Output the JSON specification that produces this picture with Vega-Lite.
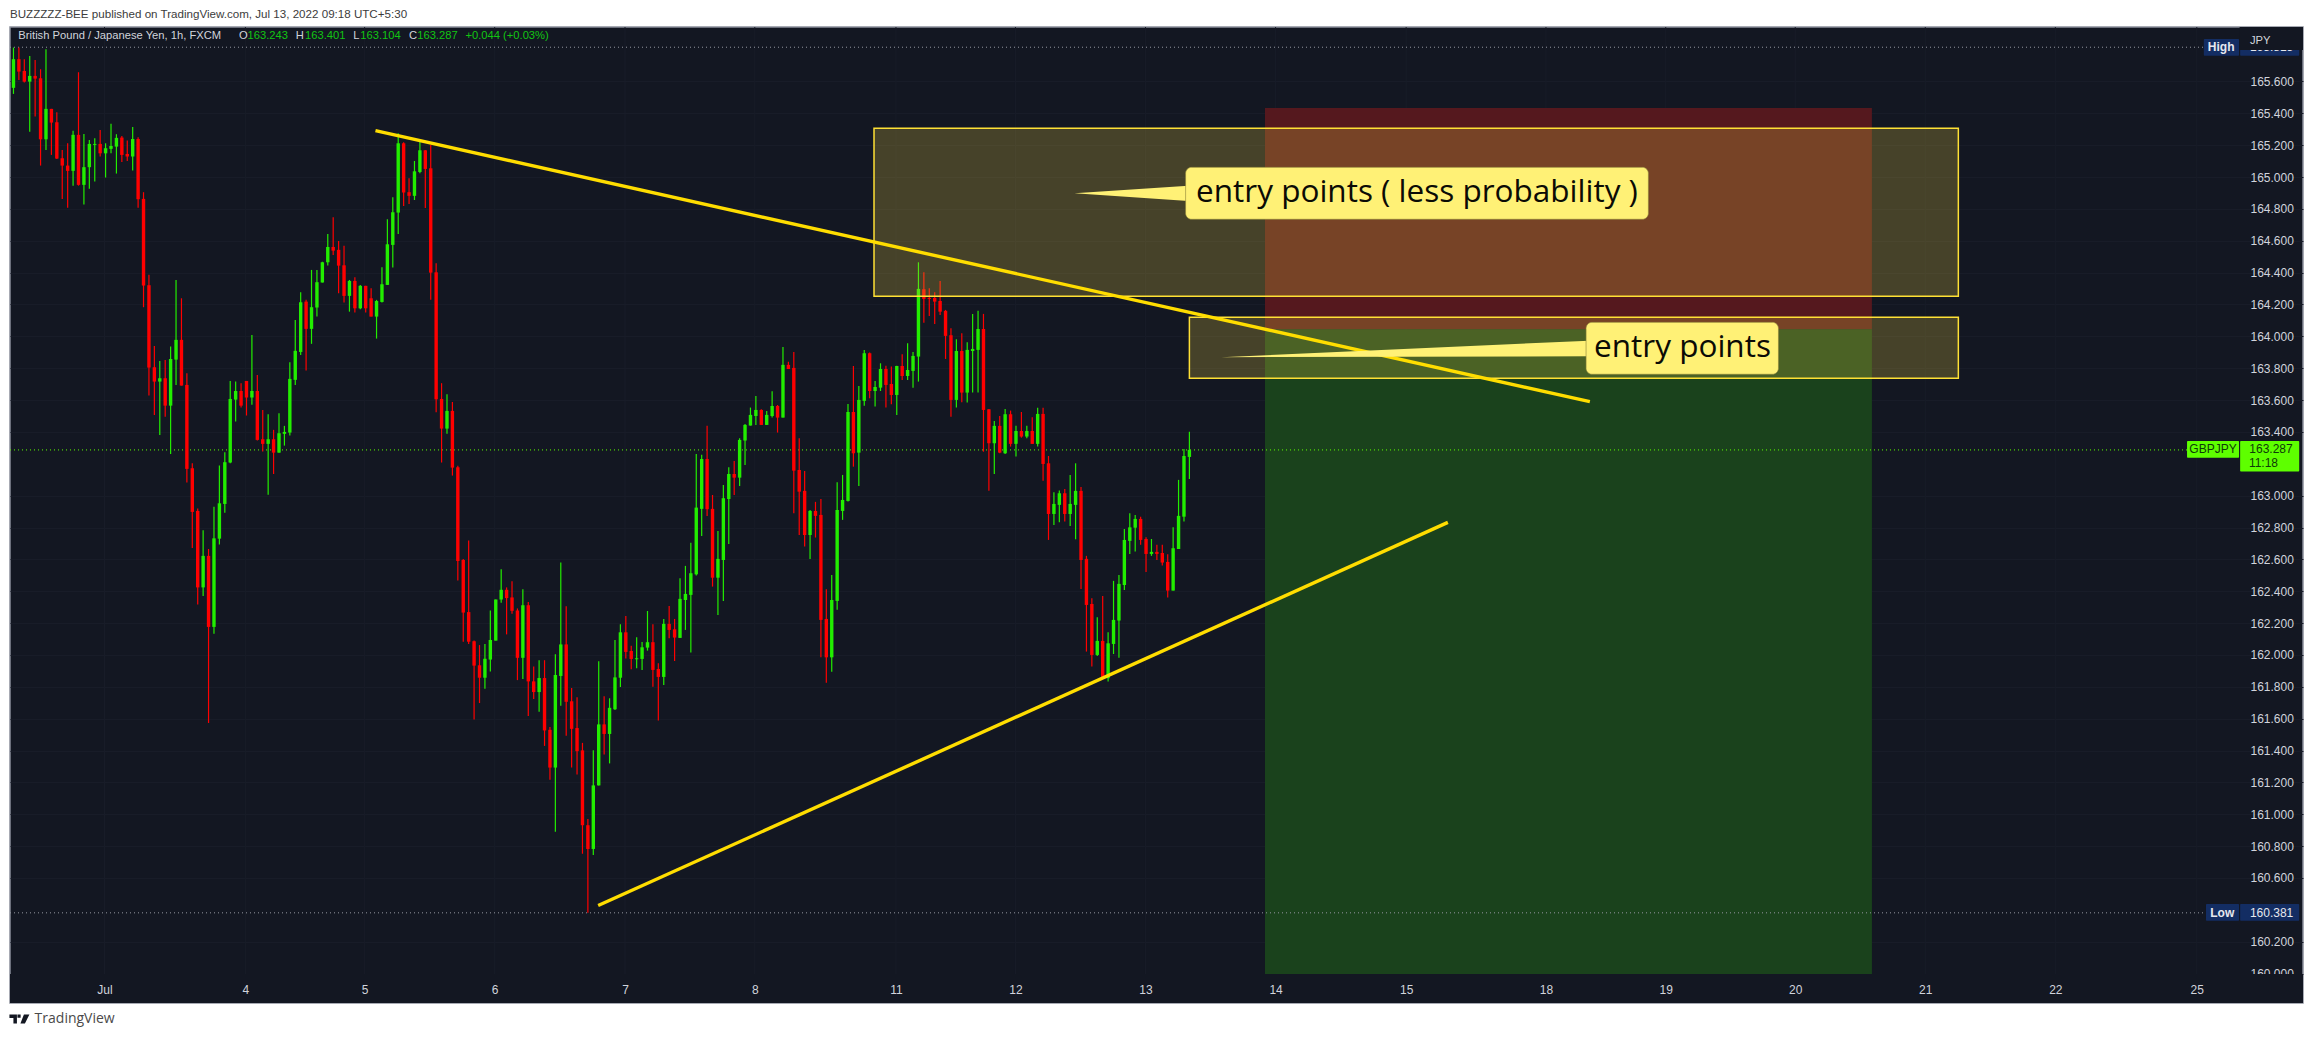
{"$schema":"https://vega.github.io/schema/vega-lite/v6.json","width":2293,"height":976,"autosize":{"type":"none"},"padding":{"left":10,"top":27,"right":11,"bottom":35},"background":"#ffffff","resolve":{"axis":{"x":"independent","y":"independent"}},"config":{"view":{"fill":"#131722","stroke":"#8b8f9b","strokeWidth":1.5},"text":{"font":"Liberation Sans"}},"datasets":{"candles":[
{"i":1,"o":165.56,"h":165.813,"l":165.522,"c":165.74},{"i":2,"o":165.74,"h":165.813,"l":165.61,"c":165.662},{"i":3,"o":165.666,"h":165.74,"l":165.593,"c":165.599},{"i":4,"o":165.599,"h":165.76,"l":165.285,"c":165.635},{"i":5,"o":165.635,"h":165.735,"l":165.38,"c":165.618},{"i":6,"o":165.62,"h":165.677,"l":165.072,"c":165.237},{"i":7,"o":165.237,"h":165.802,"l":165.17,"c":165.428},{"i":8,"o":165.428,"h":165.428,"l":165.139,"c":165.342},{"i":9,"o":165.344,"h":165.407,"l":165.114,"c":165.116},{"i":10,"o":165.118,"h":165.17,"l":164.863,"c":165.072},
{"i":11,"o":165.072,"h":165.212,"l":164.808,"c":165.039},{"i":12,"o":165.039,"h":165.29,"l":164.946,"c":165.265},{"i":13,"o":165.265,"h":165.658,"l":164.946,"c":164.951},{"i":14,"o":164.951,"h":165.271,"l":164.827,"c":165.062},{"i":15,"o":165.062,"h":165.233,"l":164.926,"c":165.208},{"i":16,"o":165.202,"h":165.244,"l":164.972,"c":165.208},{"i":17,"o":165.208,"h":165.296,"l":165.129,"c":165.149},{"i":18,"o":165.149,"h":165.212,"l":164.997,"c":165.181},{"i":19,"o":165.177,"h":165.334,"l":165.149,"c":165.195},{"i":20,"o":165.191,"h":165.269,"l":165.022,"c":165.246},
{"i":21,"o":165.248,"h":165.258,"l":165.095,"c":165.139},{"i":22,"o":165.145,"h":165.229,"l":165.101,"c":165.129},{"i":23,"o":165.129,"h":165.315,"l":165.041,"c":165.239},{"i":24,"o":165.239,"h":165.25,"l":164.808,"c":164.861},{"i":25,"o":164.863,"h":164.905,"l":164.183,"c":164.319},{"i":26,"o":164.321,"h":164.386,"l":163.628,"c":163.804},{"i":27,"o":163.806,"h":163.94,"l":163.507,"c":163.716},{"i":28,"o":163.716,"h":163.846,"l":163.381,"c":163.737},{"i":29,"o":163.737,"h":163.852,"l":163.496,"c":163.565},{"i":30,"o":163.565,"h":163.936,"l":163.262,"c":163.858},
{"i":31,"o":163.854,"h":164.354,"l":163.695,"c":163.978},{"i":32,"o":163.978,"h":164.239,"l":163.691,"c":163.691},{"i":33,"o":163.695,"h":163.768,"l":163.082,"c":163.168},{"i":34,"o":163.172,"h":163.203,"l":162.671,"c":162.898},{"i":35,"o":162.904,"h":162.919,"l":162.316,"c":162.424},{"i":36,"o":162.424,"h":162.783,"l":162.37,"c":162.622},{"i":37,"o":162.622,"h":162.665,"l":161.573,"c":162.176},{"i":38,"o":162.176,"h":162.93,"l":162.133,"c":162.732},{"i":39,"o":162.73,"h":163.189,"l":162.693,"c":162.952},{"i":40,"o":162.948,"h":163.272,"l":162.892,"c":163.21},
{"i":41,"o":163.208,"h":163.72,"l":163.203,"c":163.607},{"i":42,"o":163.603,"h":163.716,"l":163.465,"c":163.657},{"i":43,"o":163.657,"h":163.706,"l":163.553,"c":163.565},{"i":44,"o":163.72,"h":163.72,"l":163.503,"c":163.616},{"i":45,"o":163.616,"h":164.009,"l":163.57,"c":163.657},{"i":46,"o":163.657,"h":163.758,"l":163.346,"c":163.35},{"i":47,"o":163.354,"h":163.538,"l":163.277,"c":163.325},{"i":48,"o":163.325,"h":163.511,"l":163.005,"c":163.354},{"i":49,"o":163.354,"h":163.413,"l":163.136,"c":163.27},{"i":50,"o":163.27,"h":163.517,"l":163.27,"c":163.392},
{"i":51,"o":163.388,"h":163.438,"l":163.314,"c":163.4},{"i":52,"o":163.396,"h":163.837,"l":163.377,"c":163.733},{"i":53,"o":163.727,"h":164.103,"l":163.695,"c":163.909},{"i":54,"o":163.902,"h":164.277,"l":163.883,"c":164.214},{"i":55,"o":164.218,"h":164.229,"l":163.785,"c":164.047},{"i":56,"o":164.047,"h":164.417,"l":163.953,"c":164.183},{"i":57,"o":164.181,"h":164.417,"l":164.124,"c":164.34},{"i":58,"o":164.338,"h":164.469,"l":164.338,"c":164.465},{"i":59,"o":164.465,"h":164.643,"l":164.444,"c":164.561},{"i":60,"o":164.561,"h":164.748,"l":164.511,"c":164.538},
{"i":61,"o":164.543,"h":164.599,"l":164.271,"c":164.444},{"i":62,"o":164.446,"h":164.568,"l":164.212,"c":164.254},{"i":63,"o":164.254,"h":164.354,"l":164.155,"c":164.348},{"i":64,"o":164.348,"h":164.371,"l":164.149,"c":164.176},{"i":65,"o":164.176,"h":164.323,"l":164.17,"c":164.317},{"i":66,"o":164.317,"h":164.317,"l":164.149,"c":164.176},{"i":67,"o":164.239,"h":164.302,"l":164.124,"c":164.124},{"i":68,"o":164.124,"h":164.229,"l":163.986,"c":164.222},{"i":69,"o":164.216,"h":164.434,"l":164.212,"c":164.327},{"i":70,"o":164.323,"h":164.735,"l":164.323,"c":164.578},
{"i":71,"o":164.574,"h":164.873,"l":164.432,"c":164.779},{"i":72,"o":164.777,"h":165.275,"l":164.643,"c":165.212},{"i":73,"o":165.212,"h":165.218,"l":164.819,"c":164.903},{"i":74,"o":164.905,"h":164.993,"l":164.831,"c":164.882},{"i":75,"o":164.882,"h":165.101,"l":164.856,"c":165.036},{"i":76,"o":165.032,"h":165.223,"l":165.024,"c":165.168},{"i":77,"o":165.168,"h":165.17,"l":164.806,"c":165.051},{"i":78,"o":165.055,"h":165.202,"l":164.229,"c":164.4},{"i":79,"o":164.402,"h":164.459,"l":163.524,"c":163.605},{"i":80,"o":163.607,"h":163.706,"l":163.208,"c":163.421},
{"i":81,"o":163.421,"h":163.637,"l":163.388,"c":163.532},{"i":82,"o":163.532,"h":163.588,"l":163.126,"c":163.176},{"i":83,"o":163.178,"h":163.187,"l":162.467,"c":162.59},{"i":84,"o":162.596,"h":162.602,"l":162.083,"c":162.266},{"i":85,"o":162.269,"h":162.719,"l":162.068,"c":162.083},{"i":86,"o":162.086,"h":162.09,"l":161.594,"c":161.933},{"i":87,"o":161.935,"h":162.062,"l":161.698,"c":161.857},{"i":88,"o":161.857,"h":162.068,"l":161.788,"c":161.976},{"i":89,"o":161.971,"h":162.279,"l":161.896,"c":162.094},{"i":90,"o":162.09,"h":162.348,"l":162.09,"c":162.348},
{"i":91,"o":162.348,"h":162.538,"l":162.327,"c":162.409},{"i":92,"o":162.409,"h":162.424,"l":162.129,"c":162.357},{"i":93,"o":162.361,"h":162.463,"l":162.258,"c":162.277},{"i":94,"o":162.279,"h":162.292,"l":161.842,"c":161.982},{"i":95,"o":161.982,"h":162.413,"l":161.849,"c":162.312},{"i":96,"o":162.312,"h":162.333,"l":161.616,"c":161.834},{"i":97,"o":161.834,"h":161.928,"l":161.724,"c":161.767},{"i":98,"o":161.767,"h":161.967,"l":161.644,"c":161.855},{"i":99,"o":161.855,"h":161.967,"l":161.429,"c":161.526},{"i":100,"o":161.53,"h":161.547,"l":161.217,"c":161.293},
{"i":101,"o":161.293,"h":162.004,"l":160.89,"c":161.874},{"i":102,"o":161.868,"h":162.581,"l":161.681,"c":162.066},{"i":103,"o":162.066,"h":162.305,"l":161.493,"c":161.706},{"i":104,"o":161.709,"h":161.793,"l":161.293,"c":161.536},{"i":105,"o":161.541,"h":161.734,"l":161.25,"c":161.396},{"i":106,"o":161.401,"h":161.448,"l":160.752,"c":160.931},{"i":107,"o":160.931,"h":160.97,"l":160.381,"c":160.782},{"i":108,"o":160.782,"h":161.401,"l":160.744,"c":161.181},{"i":109,"o":161.181,"h":161.961,"l":161.181,"c":161.564},{"i":110,"o":161.564,"h":161.741,"l":161.375,"c":161.504},
{"i":111,"o":161.504,"h":161.728,"l":161.319,"c":161.668},{"i":112,"o":161.659,"h":162.094,"l":161.655,"c":161.859},{"i":113,"o":161.857,"h":162.193,"l":161.799,"c":162.142},{"i":114,"o":162.142,"h":162.245,"l":161.978,"c":162.019},{"i":115,"o":162.025,"h":162.057,"l":161.91,"c":161.975},{"i":116,"o":161.973,"h":162.111,"l":161.916,"c":161.979},{"i":117,"o":161.975,"h":162.082,"l":161.906,"c":162.048},{"i":118,"o":162.046,"h":162.276,"l":162.027,"c":162.08},{"i":119,"o":162.08,"h":162.193,"l":161.801,"c":161.906},{"i":120,"o":161.912,"h":161.948,"l":161.588,"c":161.862},
{"i":121,"o":161.862,"h":162.226,"l":161.812,"c":162.195},{"i":122,"o":162.195,"h":162.308,"l":162.105,"c":162.157},{"i":123,"o":162.161,"h":162.226,"l":161.962,"c":162.109},{"i":124,"o":162.107,"h":162.481,"l":162.107,"c":162.352},{"i":125,"o":162.345,"h":162.559,"l":162.157,"c":162.383},{"i":126,"o":162.377,"h":162.705,"l":162.015,"c":162.513},{"i":127,"o":162.506,"h":163.262,"l":162.498,"c":162.925},{"i":128,"o":162.917,"h":163.256,"l":162.747,"c":163.23},{"i":129,"o":163.23,"h":163.438,"l":162.873,"c":162.915},{"i":130,"o":162.917,"h":163.004,"l":162.429,"c":162.485},
{"i":131,"o":162.485,"h":162.778,"l":162.251,"c":162.603},{"i":132,"o":162.596,"h":163.067,"l":162.339,"c":162.984},{"i":133,"o":162.979,"h":163.178,"l":162.697,"c":163.136},{"i":134,"o":163.136,"h":163.218,"l":163.004,"c":163.113},{"i":135,"o":163.113,"h":163.36,"l":163.061,"c":163.35},{"i":136,"o":163.346,"h":163.45,"l":163.193,"c":163.444},{"i":137,"o":163.44,"h":163.553,"l":163.44,"c":163.507},{"i":138,"o":163.5,"h":163.626,"l":163.444,"c":163.538},{"i":139,"o":163.538,"h":163.542,"l":163.444,"c":163.444},{"i":140,"o":163.444,"h":163.532,"l":163.444,"c":163.507},
{"i":141,"o":163.5,"h":163.655,"l":163.49,"c":163.563},{"i":142,"o":163.563,"h":163.569,"l":163.396,"c":163.49},{"i":143,"o":163.49,"h":163.933,"l":163.49,"c":163.821},{"i":144,"o":163.821,"h":163.841,"l":163.795,"c":163.795},{"i":145,"o":163.802,"h":163.902,"l":162.889,"c":163.157},{"i":146,"o":163.161,"h":163.36,"l":162.753,"c":163.025},{"i":147,"o":163.03,"h":163.155,"l":162.68,"c":162.753},{"i":148,"o":162.753,"h":162.91,"l":162.603,"c":162.904},{"i":149,"o":162.904,"h":162.961,"l":162.737,"c":162.873},{"i":150,"o":162.879,"h":162.979,"l":161.985,"c":162.22},
{"i":151,"o":162.226,"h":162.412,"l":161.826,"c":161.985},{"i":152,"o":161.985,"h":162.502,"l":161.895,"c":162.345},{"i":153,"o":162.339,"h":163.084,"l":162.283,"c":162.91},{"i":154,"o":162.904,"h":163.13,"l":162.848,"c":162.973},{"i":155,"o":162.967,"h":163.576,"l":162.963,"c":163.525},{"i":156,"o":163.525,"h":163.814,"l":163.182,"c":163.266},{"i":157,"o":163.27,"h":163.689,"l":163.061,"c":163.601},{"i":158,"o":163.595,"h":163.915,"l":163.565,"c":163.894},{"i":159,"o":163.894,"h":163.898,"l":163.611,"c":163.657},{"i":160,"o":163.657,"h":163.72,"l":163.559,"c":163.682},
{"i":161,"o":163.678,"h":163.831,"l":163.657,"c":163.795},{"i":162,"o":163.795,"h":163.816,"l":163.553,"c":163.695},{"i":163,"o":163.701,"h":163.81,"l":163.574,"c":163.632},{"i":164,"o":163.632,"h":163.816,"l":163.507,"c":163.814},{"i":165,"o":163.814,"h":163.887,"l":163.726,"c":163.751},{"i":166,"o":163.751,"h":163.957,"l":163.726,"c":163.789},{"i":167,"o":163.783,"h":163.902,"l":163.678,"c":163.877},{"i":168,"o":163.873,"h":164.465,"l":163.716,"c":164.298},{"i":169,"o":164.296,"h":164.402,"l":164.086,"c":164.235},{"i":170,"o":164.241,"h":164.302,"l":164.128,"c":164.235},
{"i":171,"o":164.241,"h":164.277,"l":164.078,"c":164.218},{"i":172,"o":164.222,"h":164.348,"l":164.134,"c":164.155},{"i":173,"o":164.16,"h":164.166,"l":163.858,"c":164.003},{"i":174,"o":164.007,"h":164.051,"l":163.496,"c":163.601},{"i":175,"o":163.601,"h":163.982,"l":163.553,"c":163.908},{"i":176,"o":163.908,"h":164.019,"l":163.586,"c":163.647},{"i":177,"o":163.647,"h":163.963,"l":163.584,"c":163.915},{"i":178,"o":163.908,"h":164.141,"l":163.647,"c":163.921},{"i":179,"o":163.915,"h":164.16,"l":163.647,"c":164.046},{"i":180,"o":164.046,"h":164.141,"l":163.276,"c":163.538},
{"i":181,"o":163.542,"h":163.544,"l":163.03,"c":163.329},{"i":182,"o":163.329,"h":163.469,"l":163.136,"c":163.438},{"i":183,"o":163.438,"h":163.5,"l":163.266,"c":163.27},{"i":184,"o":163.266,"h":163.544,"l":163.262,"c":163.511},{"i":185,"o":163.511,"h":163.534,"l":163.308,"c":163.325},{"i":186,"o":163.325,"h":163.438,"l":163.245,"c":163.406},{"i":187,"o":163.406,"h":163.525,"l":163.364,"c":163.371},{"i":188,"o":163.371,"h":163.438,"l":163.36,"c":163.406},{"i":189,"o":163.406,"h":163.492,"l":163.325,"c":163.325},{"i":190,"o":163.325,"h":163.551,"l":163.308,"c":163.513},
{"i":191,"o":163.513,"h":163.551,"l":163.094,"c":163.199},{"i":192,"o":163.203,"h":163.249,"l":162.722,"c":162.885},{"i":193,"o":162.885,"h":163.021,"l":162.816,"c":162.948},{"i":194,"o":162.942,"h":163.032,"l":162.833,"c":163.015},{"i":195,"o":163.015,"h":163.042,"l":162.837,"c":162.885},{"i":196,"o":162.885,"h":163.13,"l":162.81,"c":162.948},{"i":197,"o":162.942,"h":163.203,"l":162.726,"c":163.03},{"i":198,"o":163.03,"h":163.055,"l":162.414,"c":162.596},{"i":199,"o":162.603,"h":162.622,"l":162.021,"c":162.314},{"i":200,"o":162.32,"h":162.356,"l":161.927,"c":162.0},
{"i":201,"o":162.0,"h":162.236,"l":161.994,"c":162.088},{"i":202,"o":162.088,"h":162.37,"l":161.854,"c":161.854},{"i":203,"o":161.854,"h":162.142,"l":161.833,"c":162.073},{"i":204,"o":162.069,"h":162.465,"l":162.006,"c":162.22},{"i":205,"o":162.216,"h":162.502,"l":161.983,"c":162.446},{"i":206,"o":162.439,"h":162.791,"l":162.408,"c":162.722},{"i":207,"o":162.716,"h":162.889,"l":162.634,"c":162.801},{"i":208,"o":162.799,"h":162.879,"l":162.649,"c":162.854},{"i":209,"o":162.854,"h":162.868,"l":162.691,"c":162.722},{"i":210,"o":162.728,"h":162.739,"l":162.521,"c":162.634},
{"i":211,"o":162.634,"h":162.728,"l":162.622,"c":162.647},{"i":212,"o":162.647,"h":162.691,"l":162.596,"c":162.634},{"i":213,"o":162.64,"h":162.691,"l":162.561,"c":162.58},{"i":214,"o":162.584,"h":162.632,"l":162.36,"c":162.404},{"i":215,"o":162.404,"h":162.801,"l":162.404,"c":162.67},{"i":216,"o":162.665,"h":163.099,"l":162.665,"c":162.873},{"i":217,"o":162.868,"h":163.293,"l":162.837,"c":163.249},{"i":218,"o":163.243,"h":163.401,"l":163.104,"c":163.287}
]},"layer":[
{"data":{"values":[{"x":17.8},{"x":43.8},{"x":65.8},{"x":89.8},{"x":113.85},{"x":137.8},{"x":163.85},{"x":185.9},{"x":209.9},{"x":233.9},{"x":258},{"x":283.8},{"x":305.9},{"x":329.8},{"x":353.8},{"x":377.8},{"x":403.9}]},"mark":{"type":"rule","color":"#181c28","strokeWidth":1},"encoding":{"x":{"field":"x","type":"quantitative","axis":null,"scale":{"domain":[0.36,423.5],"nice":false,"zero":false}}}},
{"data":{"values":[{"zone":"stop","x":231.95,"x2":343.95,"y":165.434,"y2":164.044},{"zone":"target","x":231.95,"x2":343.95,"y":164.044,"y2":159.997}]},"mark":{"type":"rect"},"encoding":{"x":{"field":"x","type":"quantitative","title":null,"scale":{"domain":[0.36,423.5],"nice":false,"zero":false},"axis":{"title":null,"values":[17.8,43.8,65.8,89.8,113.85,137.8,163.85,185.9,209.9,233.9,258,283.8,305.9,329.8,353.8,377.8,403.9],"labelExpr":"datum.value==17.8?'Jul':datum.value==43.8?'4':datum.value==65.8?'5':datum.value==89.8?'6':datum.value==113.85?'7':datum.value==137.8?'8':datum.value==163.85?'11':datum.value==185.9?'12':datum.value==209.9?'13':datum.value==233.9?'14':datum.value==258?'15':datum.value==283.8?'18':datum.value==305.9?'19':datum.value==329.8?'20':datum.value==353.8?'21':datum.value==377.8?'22':'25'","orient":"bottom","offset":-14,"domain":false,"ticks":false,"labelPadding":0,"labelBaseline":"middle","labelColor":"#d1d4dc","labelFont":"Liberation Sans","labelFontSize":12,"labelOverlap":false,"labelBound":false,"labelFlush":false,"grid":false,"zindex":1}},"x2":{"field":"x2"},"y":{"field":"y","type":"quantitative","title":null,"scale":{"domain":[159.815,165.942],"nice":false,"zero":false},"axis":{"title":null,"values":[160,160.2,160.6,160.8,161,161.2,161.4,161.6,161.8,162,162.2,162.4,162.6,162.8,163,163.4,163.6,163.8,164,164.2,164.4,164.6,164.8,165,165.2,165.4,165.6],"format":".3f","orient":"right","offset":-53,"domain":false,"ticks":false,"labelPadding":0,"labelAlign":"left","labelColor":"#d1d4dc","labelFont":"Liberation Sans","labelFontSize":12,"labelOverlap":false,"labelBound":false,"grid":true,"gridColor":"#181c28"}},"y2":{"field":"y2"},"color":{"field":"zone","type":"nominal","legend":null,"scale":{"domain":["stop","target"],"range":["#55181e","#1a421c"]}}}},
{"data":{"values":[{"level":"High","y":165.815,"x":0.36,"x2":405.2},{"level":"Low","y":160.381,"x":0.36,"x2":405.6}]},"mark":{"type":"rule","strokeDash":[1,3],"strokeWidth":1,"color":"#9598a1"},"encoding":{"x":{"field":"x","type":"quantitative","axis":null,"scale":{"domain":[0.36,423.5],"nice":false,"zero":false}},"x2":{"field":"x2"},"y":{"field":"y","type":"quantitative","axis":null,"scale":{"domain":[159.815,165.942],"nice":false,"zero":false}}}},
{"data":{"values":[{"level":"Last","y":163.287,"x":0.36,"x2":402.1}]},"mark":{"type":"rule","strokeDash":[1,3],"strokeWidth":1,"color":"#5eff00"},"encoding":{"x":{"field":"x","type":"quantitative","axis":null,"scale":{"domain":[0.36,423.5],"nice":false,"zero":false}},"x2":{"field":"x2"},"y":{"field":"y","type":"quantitative","axis":null,"scale":{"domain":[159.815,165.942],"nice":false,"zero":false}}}},
{"data":{"name":"candles"},"mark":{"type":"rule","strokeWidth":1.2},"encoding":{"x":{"field":"i","type":"quantitative","axis":null,"scale":{"domain":[0.36,423.5],"nice":false,"zero":false}},"y":{"field":"h","type":"quantitative","axis":null,"scale":{"domain":[159.815,165.942],"nice":false,"zero":false}},"y2":{"field":"l"},"color":{"condition":{"test":"datum.c>=datum.o","value":"#22ee00"},"value":"#ff0000"}}},
{"data":{"name":"candles"},"mark":{"type":"rule","strokeWidth":3.4},"encoding":{"x":{"field":"i","type":"quantitative","axis":null,"scale":{"domain":[0.36,423.5],"nice":false,"zero":false}},"y":{"field":"o","type":"quantitative","axis":null,"scale":{"domain":[159.815,165.942],"nice":false,"zero":false}},"y2":{"field":"c"},"color":{"condition":{"test":"datum.c>=datum.o","value":"#22ee00"},"value":"#ff0000"}}},
{"data":{"values":[{"x":159.8,"x2":359.9,"y":165.306,"y2":164.252},{"x":218,"x2":359.9,"y":164.12,"y2":163.737}]},"mark":{"type":"rect","fill":"#dec23f","fillOpacity":0.25,"stroke":"#ffe135","strokeWidth":1.5},"encoding":{"x":{"field":"x","type":"quantitative","axis":null,"scale":{"domain":[0.36,423.5],"nice":false,"zero":false}},"x2":{"field":"x2"},"y":{"field":"y","type":"quantitative","axis":null,"scale":{"domain":[159.815,165.942],"nice":false,"zero":false}},"y2":{"field":"y2"}}},
{"data":{"values":[{"line":"upper","x":67.8,"y":165.291},{"line":"upper","x":291.9,"y":163.59},{"line":"lower","x":108.9,"y":160.427},{"line":"lower","x":265.7,"y":162.832}]},"mark":{"type":"line","color":"#ffdd00","strokeWidth":3.4},"encoding":{"detail":{"field":"line"},"x":{"field":"x","type":"quantitative","axis":null,"scale":{"domain":[0.36,423.5],"nice":false,"zero":false}},"y":{"field":"y","type":"quantitative","axis":null,"scale":{"domain":[159.815,165.942],"nice":false,"zero":false}}}},
{"data":{"values":[{"c":"a","x":196.8,"y":164.898,"y2":164.898},{"c":"a","x":217.8,"y":164.946,"y2":164.85},{"c":"b","x":223.9,"y":163.869,"y2":163.869},{"c":"b","x":291.7,"y":163.973,"y2":163.875}]},"mark":{"type":"area","color":"#fff176","orient":"vertical"},"encoding":{"detail":{"field":"c"},"x":{"field":"x","type":"quantitative","axis":null,"scale":{"domain":[0.36,423.5],"nice":false,"zero":false}},"y":{"field":"y","type":"quantitative","axis":null,"scale":{"domain":[159.815,165.942],"nice":false,"zero":false}},"y2":{"field":"y2"}}},
{"data":{"values":[{"x":217.3,"x2":302.7,"y":165.061,"y2":164.735},{"x":291.2,"x2":326.7,"y":164.088,"y2":163.762}]},"mark":{"type":"rect","fill":"#fff176","cornerRadius":6,"stroke":"#8a8038","strokeWidth":0.6},"encoding":{"x":{"field":"x","type":"quantitative","axis":null,"scale":{"domain":[0.36,423.5],"nice":false,"zero":false}},"x2":{"field":"x2"},"y":{"field":"y","type":"quantitative","axis":null,"scale":{"domain":[159.815,165.942],"nice":false,"zero":false}},"y2":{"field":"y2"}}},
{"data":{"values":[{"t":"entry points ( less probability )","x":260,"y":164.9},{"t":"entry points","x":309,"y":163.927}]},"mark":{"type":"text","font":"Open Sans","fontSize":31.5,"color":"#0b0b05","align":"center","baseline":"middle"},"encoding":{"x":{"field":"x","type":"quantitative","axis":null,"scale":{"domain":[0.36,423.5],"nice":false,"zero":false}},"y":{"field":"y","type":"quantitative","axis":null,"scale":{"domain":[159.815,165.942],"nice":false,"zero":false}},"text":{"field":"t"}}},
{"data":{"values":[{"tag":"GBPJPY","x":402.1,"x2":411.7,"y":163.343,"y2":163.238},{"tag":"price","x":411.9,"x2":422.8,"y":163.343,"y2":163.151}]},"mark":{"type":"rect","fill":"#5eff00","cornerRadius":1},"encoding":{"x":{"field":"x","type":"quantitative","axis":null,"scale":{"domain":[0.36,423.5],"nice":false,"zero":false}},"x2":{"field":"x2"},"y":{"field":"y","type":"quantitative","axis":null,"scale":{"domain":[159.815,165.942],"nice":false,"zero":false}},"y2":{"field":"y2"}}},
{"data":{"values":[{"tag":"High","x":405.2,"x2":411.7,"y":165.867,"y2":165.762},{"tag":"HighValue","x":411.9,"x2":422.8,"y":165.867,"y2":165.762},{"tag":"Low","x":405.6,"x2":411.7,"y":160.437,"y2":160.332},{"tag":"LowValue","x":411.9,"x2":422.8,"y":160.437,"y2":160.332}]},"mark":{"type":"rect","fill":"#132d63","cornerRadius":1},"encoding":{"x":{"field":"x","type":"quantitative","axis":null,"scale":{"domain":[0.36,423.5],"nice":false,"zero":false}},"x2":{"field":"x2"},"y":{"field":"y","type":"quantitative","axis":null,"scale":{"domain":[159.815,165.942],"nice":false,"zero":false}},"y2":{"field":"y2"}}},
{"data":{"values":[{"t":"165.815","x":413.7,"y":165.817},{"t":"160.381","x":413.7,"y":160.381}]},"mark":{"type":"text","fontSize":12,"color":"#e6e8ee","align":"left","baseline":"middle"},"encoding":{"x":{"field":"x","type":"quantitative","axis":null,"scale":{"domain":[0.36,423.5],"nice":false,"zero":false}},"y":{"field":"y","type":"quantitative","axis":null,"scale":{"domain":[159.815,165.942],"nice":false,"zero":false}},"text":{"field":"t"}}},
{"data":{"values":[{"cover":"priceHeader","x":411.8,"x2":423.5,"y":165.942,"y2":165.798},{"cover":"timeAxis","x":0.36,"x2":423.5,"y":159.997,"y2":159.815}]},"mark":{"type":"rect","fill":"#131722"},"encoding":{"x":{"field":"x","type":"quantitative","axis":null,"scale":{"domain":[0.36,423.5],"nice":false,"zero":false}},"x2":{"field":"x2"},"y":{"field":"y","type":"quantitative","axis":null,"scale":{"domain":[159.815,165.942],"nice":false,"zero":false}},"y2":{"field":"y2"}}},
{"data":{"values":[{"t":"High","x":408.4,"y":165.817},{"t":"Low","x":408.6,"y":160.381}]},"mark":{"type":"text","fontSize":12,"fontWeight":"bold","color":"#e6e8ee","align":"center","baseline":"middle"},"encoding":{"x":{"field":"x","type":"quantitative","axis":null,"scale":{"domain":[0.36,423.5],"nice":false,"zero":false}},"y":{"field":"y","type":"quantitative","axis":null,"scale":{"domain":[159.815,165.942],"nice":false,"zero":false}},"text":{"field":"t"}}},
{"data":{"values":[{"t":"GBPJPY","x":406.9,"y":163.29},{"t":"163.287","x":417.6,"y":163.29},{"t":"11:18","x":416.2,"y":163.205}]},"mark":{"type":"text","fontSize":12,"color":"#0e3b08","align":"center","baseline":"middle"},"encoding":{"x":{"field":"x","type":"quantitative","axis":null,"scale":{"domain":[0.36,423.5],"nice":false,"zero":false}},"y":{"field":"y","type":"quantitative","axis":null,"scale":{"domain":[159.815,165.942],"nice":false,"zero":false}},"text":{"field":"t"}}},
{"data":{"values":[{"t":"British Pound / Japanese Yen, 1h, FXCM","x":1.9,"y":165.888},{"t":"O","x":42.6,"y":165.888},{"t":"H","x":53.1,"y":165.888},{"t":"L","x":63.7,"y":165.888},{"t":"C","x":74,"y":165.888},{"t":"JPY","x":413.7,"y":165.854}]},"mark":{"type":"text","fontSize":11.2,"color":"#d1d4dc","align":"left","baseline":"middle"},"encoding":{"x":{"field":"x","type":"quantitative","axis":null,"scale":{"domain":[0.36,423.5],"nice":false,"zero":false}},"y":{"field":"y","type":"quantitative","axis":null,"scale":{"domain":[159.815,165.942],"nice":false,"zero":false}},"text":{"field":"t"}}},
{"data":{"values":[{"t":"163.243","x":44.2,"y":165.888},{"t":"163.401","x":54.8,"y":165.888},{"t":"163.104","x":65,"y":165.888},{"t":"163.287","x":75.5,"y":165.888},{"t":"+0.044 (+0.03%)","x":84.4,"y":165.888}]},"mark":{"type":"text","fontSize":11.2,"color":"#12c512","align":"left","baseline":"middle"},"encoding":{"x":{"field":"x","type":"quantitative","axis":null,"scale":{"domain":[0.36,423.5],"nice":false,"zero":false}},"y":{"field":"y","type":"quantitative","axis":null,"scale":{"domain":[159.815,165.942],"nice":false,"zero":false}},"text":{"field":"t"}}},
{"data":{"values":[{"t":"BUZZZZZ-BEE published on TradingView.com, Jul 13, 2022 09:18 UTC+5:30","x":0.36,"y":166.017}]},"mark":{"type":"text","fontSize":11.6,"color":"#3c3c3c","align":"left","baseline":"middle"},"encoding":{"x":{"field":"x","type":"quantitative","axis":null,"scale":{"domain":[0.36,423.5],"nice":false,"zero":false}},"y":{"field":"y","type":"quantitative","axis":null,"scale":{"domain":[159.815,165.942],"nice":false,"zero":false}},"text":{"field":"t"}}},
{"data":{"values":[{"t":"TradingView","x":4.9,"y":159.712}]},"mark":{"type":"text","font":"Open Sans","fontSize":14,"color":"#4a4a4a","align":"left","baseline":"middle"},"encoding":{"x":{"field":"x","type":"quantitative","axis":null,"scale":{"domain":[0.36,423.5],"nice":false,"zero":false}},"y":{"field":"y","type":"quantitative","axis":null,"scale":{"domain":[159.815,165.942],"nice":false,"zero":false}},"text":{"field":"t"}}},
{"data":{"values":[{"x":2.1,"y":159.715}]},"mark":{"type":"point","filled":true,"opacity":1,"color":"#131722","size":400,"shape":"M-1 -.45 H-.25 V.45 H-.6 V-.1 H-1 Z M-.2 -.45 H.12 V-.12 H-.2 Z M.1 .45 L.45 -.45 H1 L.55 .45 Z"},"encoding":{"x":{"field":"x","type":"quantitative","axis":null,"scale":{"domain":[0.36,423.5],"nice":false,"zero":false}},"y":{"field":"y","type":"quantitative","axis":null,"scale":{"domain":[159.815,165.942],"nice":false,"zero":false}}}}
]}
